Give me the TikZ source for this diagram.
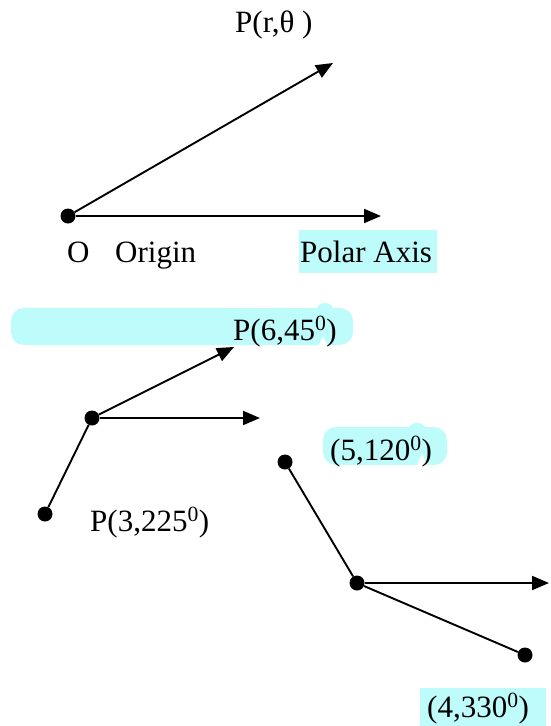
\documentclass[tikz,border=0pt]{standalone}
\usepackage{fontspec}
\setmainfont{Liberation Serif}
\usetikzlibrary{arrows.meta}
\definecolor{hlcyan}{RGB}{190,251,251}

\begin{document}
\begin{tikzpicture}[
    x=1pt, y=-1pt,
    >={Triangle[length=17pt,width=14pt]},
    dot/.style  = {circle, fill, inner sep=0pt, minimum size=15pt},
    lbl/.style  = {anchor=base west, inner sep=0pt, font=\fontsize{31}{36}\selectfont},
    hl/.style   = {fill=hlcyan},
    every edge/.style = {draw, line width=1.9pt}
]
\useasboundingbox (0,0) rectangle (551,726);

% =========================================================
% HIGHLIGHTS
% =========================================================
\fill[hl] (299,230) rectangle (437,273);
\fill[hl, rounded corners=13pt] (11,308) rectangle (353,345);
\fill[hl] (325,309) ellipse[x radius=8, y radius=6];
\fill[white] (318,346) -- (323,337) -- (328,346) -- cycle;
\fill[hl, rounded corners=13pt] (323,427) rectangle (447,465);
\fill[hl] (417,428) ellipse[x radius=8, y radius=5];
\fill[white] (417,466) -- (422,453) -- (427,466) -- cycle;
\fill[hl] (420,688) rectangle (546,726);

% =========================================================
% POLAR AXIS
% =========================================================
\node[dot] (O) at (68,216) {};
\coordinate (Ptip) at (333,63);
\coordinate (Atip) at (381,216);
\node[lbl] (Plbl)   at (235,32)  {P(r,θ )};
\node[lbl] (Olbl)   at (67,262)  {O};
\node[lbl] (orig)   at (115,262) {Origin};
\node[lbl] (axis)   at (300,262) {Polar Axis};

% =========================================================
% EXAMPLE POINTS
% =========================================================
\node[dot] (B) at (92,418) {};
\coordinate (Q45) at (234,347);
\coordinate (Btip) at (260,418);
\node[dot] (Q225) at (45,514) {};
\node[lbl] (l45)  at (233,340) {P(6,45\textsuperscript{0})};
\node[lbl] (l225) at (90,531)  {P(3,225\textsuperscript{0})};

\node[dot] (Q120) at (285,462) {};
\node[dot] (C) at (357,583) {};
\coordinate (Ctip) at (549,583);
\node[dot] (Q330) at (525,655) {};
\node[lbl] (l120) at (330,460) {(5,120\textsuperscript{0})};
\node[lbl] (l330) at (427,717) {(4,330\textsuperscript{0})};

% =========================================================
% ARROWS
% =========================================================
\path
  (O)    edge[->] (Ptip)
  (O)    edge[->] (Atip)
  (B)    edge[->] (Q45)
  (B)    edge[->] (Btip)
  (B)    edge     (Q225)
  (Q120) edge     (C)
  (C)    edge[->] (Ctip)
  (C)    edge     (Q330);

\end{tikzpicture}
\end{document}
